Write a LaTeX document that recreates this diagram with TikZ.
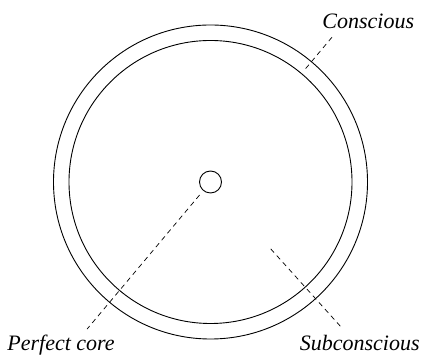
\documentclass[tikz,border=0pt]{standalone}
\usepackage{fontspec}
\setmainfont{Liberation Serif}
\tikzset{
  leader/.style={dash pattern=on 2.5pt off 2pt, line width=0.35pt},
  layer/.style={line width=0.45pt},
  tag/.style={font=\fontsize{11}{13}\selectfont\itshape, inner sep=0pt}
}
\begin{document}
\begin{tikzpicture}[x=0.5pt, y=0.5pt]
  \useasboundingbox (-210.5,-174) rectangle (210.5,182);
  \draw[layer] (0,0) circle (157);
  \draw[layer] (0,0) circle (141.5);
  \node[layer, draw, circle, minimum size=11pt, inner sep=0pt] (core) at (0,0) {};
  \node[tag, anchor=base west] (conscious) at (111.5,153) {Conscious};
  \node[tag, anchor=base west] (perfect) at (-203.5,-169) {Perfect core};
  \node[tag, anchor=base east] (subconscious) at (209.5,-169) {Subconscious};
  \coordinate (ring) at (50:148);
  \coordinate (ring-end) at (50:193);
  \coordinate (core-start) at (230:17);
  \coordinate (core-end) at (230:192);
  \coordinate (inside) at (-48:90);
  \coordinate (inside-end) at (-48:195);
  \draw[leader] (ring) -- (ring-end);
  \draw[leader] (core-start) -- (core-end);
  \draw[leader] (inside) -- (inside-end);
\end{tikzpicture}
\end{document}
